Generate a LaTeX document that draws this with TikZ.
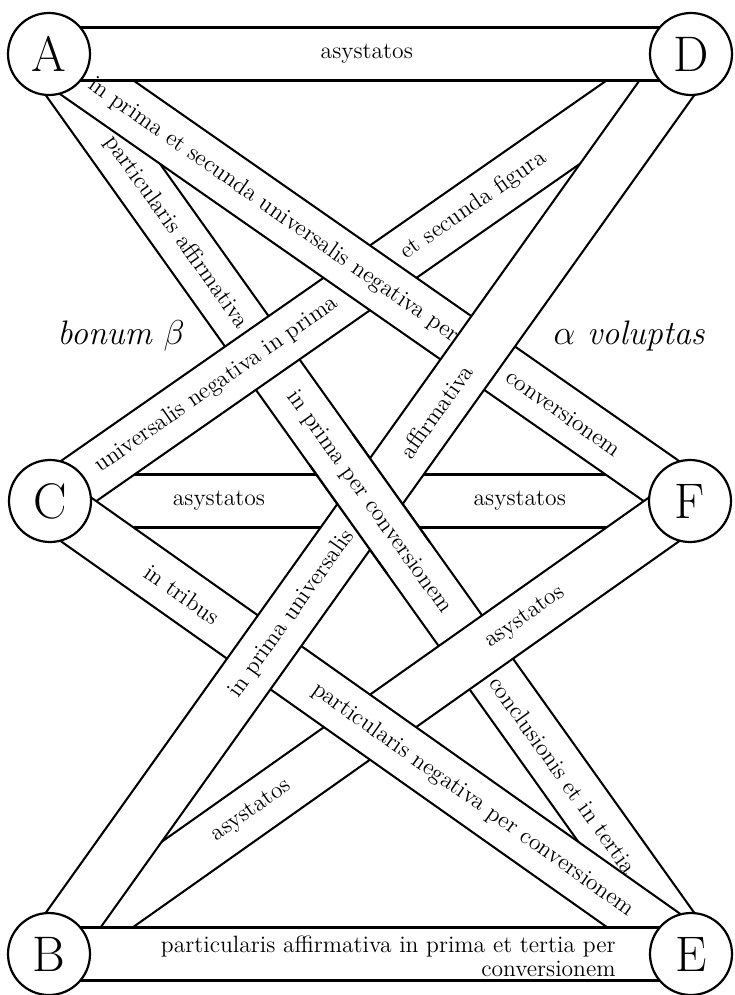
\documentclass[tikz,border=0pt]{standalone}
\usetikzlibrary{calc,backgrounds}

\begin{document}
\begin{tikzpicture}[x=0.5pt,y=-0.5pt,
  band/.style={draw=black,double=white,double distance=25.4pt,line width=1.1pt},%
  pole/.style={circle,draw,fill=white,line width=1.1pt,minimum size=41pt,
    inner sep=0pt,font=\fontsize{25}{25}\selectfont},%
  lab/.style={sloped,inner sep=1pt,font=\fontsize{11.8}{12}\selectfont},%
  side/.style={font=\fontsize{17}{20}\selectfont\itshape}]
\useasboundingbox (0,0) rectangle (734,995);
\node[pole] (A) at (49,54) {A};
\node[pole] (D) at (691,54) {D};
\node[pole] (C) at (50,501) {C};
\node[pole] (F) at (690,501) {F};
\node[pole] (B) at (49,954) {B};
\node[pole] (E) at (691,954) {E};
\begin{scope}[on background layer]
\draw[band] (C.center) -- (F.center);
\draw[band] (A.center) -- (E.center);
\draw[band] (C.center) -- (D.center);
\draw[band] (A.center) -- (F.center);
\draw[band] (B.center) -- (F.center);
\draw[band] (C.center) -- (E.center);
\draw[band] (B.center) -- (D.center);
\draw[band] (A.center) -- (D.center);
\draw[band] (B.center) -- (E.center);
% A--E passes over B--D in the middle
\coordinate (p1) at ($(A.center)!.453!(E.center)$);
\coordinate (p2) at ($(A.center)!.547!(E.center)$);
\coordinate (q1) at ($(A.center)!.44!(E.center)$);
\coordinate (q2) at ($(A.center)!.56!(E.center)$);
\fill[white] ($(p1)!13.25pt!90:(p2)$) -- ($(p2)!13.25pt!-90:(p1)$)
  -- ($(p2)!13.25pt!90:(p1)$) -- ($(p1)!13.25pt!-90:(p2)$) -- cycle;
\draw[line width=1.1pt] ($(q1)!13.25pt!90:(q2)$) -- ($(q2)!13.25pt!-90:(q1)$);
\draw[line width=1.1pt] ($(q1)!13.25pt!-90:(q2)$) -- ($(q2)!13.25pt!90:(q1)$);
\end{scope}
\path (A.center) -- (D.center) node[lab,pos=.495] {asystatos};
\path (C.center) -- (F.center) node[lab,pos=.264] {asystatos}
  node[lab,pos=.734] {asystatos};
\path (A.center) -- (F.center)
  node[lab,pos=.35] {in prima et secunda universalis negativa per}
  node[lab,pos=.803] {conversionem};
\path (C.center) -- (D.center) node[lab,pos=.26] {universalis negativa in prima}
  node[lab,pos=.661] {et secunda figura};
\path (B.center) -- (D.center) node[lab,pos=.378] {in prima universalis}
  node[lab,pos=.603] {affirmativa};
\path (A.center) -- (E.center) node[lab,pos=.198] {particularis affirmativa}
  node[lab,pos=.498] {in prima per conversionem}
  node[lab,pos=.801] {conclusionis et in tertia};
\path (C.center) -- (E.center) node[lab,pos=.206] {in tribus}
  node[lab,pos=.66] {particularis negativa per conversionem};
\path (B.center) -- (F.center) node[lab,pos=.316] {asystatos}
  node[lab,pos=.743] {asystatos};
\node[lab,align=right,anchor=east] (BEtext) at (618,956)
  {particularis affirmativa in prima et tertia per\\conversionem};
\node[side] (bonum) at (121,336) {bonum $\beta$};
\node[side] (voluptas) at (629,336) {$\alpha$ voluptas};
\end{tikzpicture}
\end{document}
